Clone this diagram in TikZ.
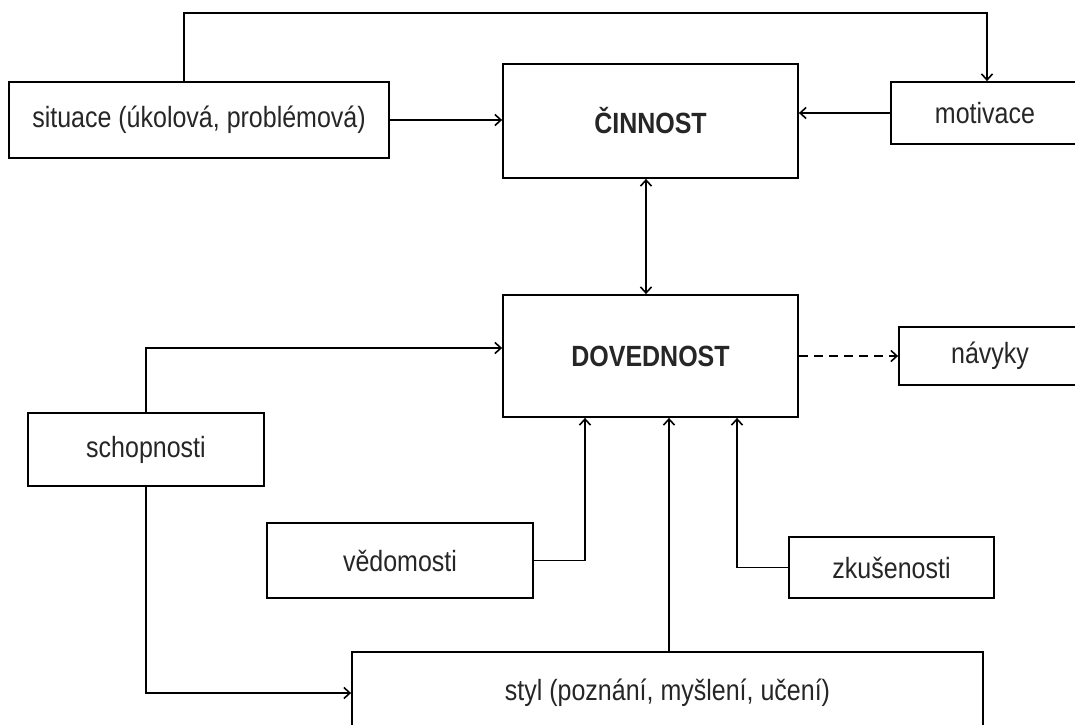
\documentclass[tikz,border=0pt]{standalone}
\usepackage{fontspec}
\setmainfont{Liberation Sans}
\usetikzlibrary{arrows.meta}
% labels are set slightly taller than the font's natural proportions
\newcommand{\tallText}[1]{\scalebox{1}[1.17]{#1}}
\begin{document}
\begin{tikzpicture}[x=1pt,y=-1pt,
  line width=1.8pt,
  box/.style={draw, rectangle, inner sep=0pt, text=black!85,
    font=\fontsize{25}{30}\selectfont},
  boldbox/.style={box, font=\fontsize{25}{30}\selectfont\bfseries},
  arr/.style={-{Straight Barb[length=6pt,width=11pt,line width=1.6pt]}},
  arrboth/.style={{Straight Barb[length=6pt,width=11pt,line width=1.6pt]}-{Straight Barb[length=6pt,width=11pt,line width=1.6pt]}},
  dashline/.style={arr, dash pattern=on 9pt off 6pt}]
\useasboundingbox (0,0) rectangle (1075,724);
\fill[white] (0,0) rectangle (1075,724);
\clip (0,0) rectangle (1075,724);

% boxes
\node[box, minimum width=380pt, minimum height=76pt] (sit) at (199,120) {\tallText{situace (úkolová, problémová)}};
\node[boldbox, minimum width=295pt, minimum height=114pt] (cin) at (650.5,121) {\tallText{ČINNOST}};
\node[box, minimum width=188pt, minimum height=62pt] (mot) at (985,113) {\tallText{motivace}};
\node[boldbox, minimum width=295pt, minimum height=122pt] (dov) at (650.5,356) {\tallText{DOVEDNOST}};
\node[box, minimum width=182pt, minimum height=58pt] (nav) at (990,356) {\tallText{návyky}};
\node[box, minimum width=236pt, minimum height=73pt] (sch) at (146,449.5) {\tallText{schopnosti}};
\node[box, minimum width=266pt, minimum height=75pt] (ved) at (400,560.5) {\tallText{vědomosti}};
\node[box, minimum width=205pt, minimum height=61pt] (zku) at (891.5,567.5) {\tallText{zkušenosti}};
\node[box, minimum width=631pt, minimum height=82pt] (sty) at (667.5,693) {\tallText{styl (poznání, myšlení, učení)}};

% routing points
\coordinate (topL) at (184,13);
\coordinate (topR) at (987,13);
\coordinate (dovIn) at ([yshift=8pt]dov.west);
\coordinate (dovA) at ([xshift=-65.5pt]dov.south);
\coordinate (dovB) at ([xshift=18.5pt]dov.south);
\coordinate (dovC) at ([xshift=86.5pt]dov.south);

% connectors
\draw[arr] (sit.north -| topL) -- (topL) -- (topR) -- (topR |- mot.north);
\draw[arr] (sit.east) -- (sit.east -| cin.west);
\draw[arr] (mot.west) -- (mot.west -| cin.east);
\draw[arrboth] ([xshift=-4.5pt]cin.south) -- ([xshift=-4.5pt]dov.north);
\draw[dashline] (dov.east) -- (nav.west);
\draw[arr] (sch.north) |- (dovIn);
\draw[arr] (sch.south) |- (sty.west);
\draw[arr] (ved.east) -| (dovA);
\draw[arr] (sty.north -| dovB) -- (dovB);
\draw[arr] (zku.west) -| (dovC);
\end{tikzpicture}
\end{document}
